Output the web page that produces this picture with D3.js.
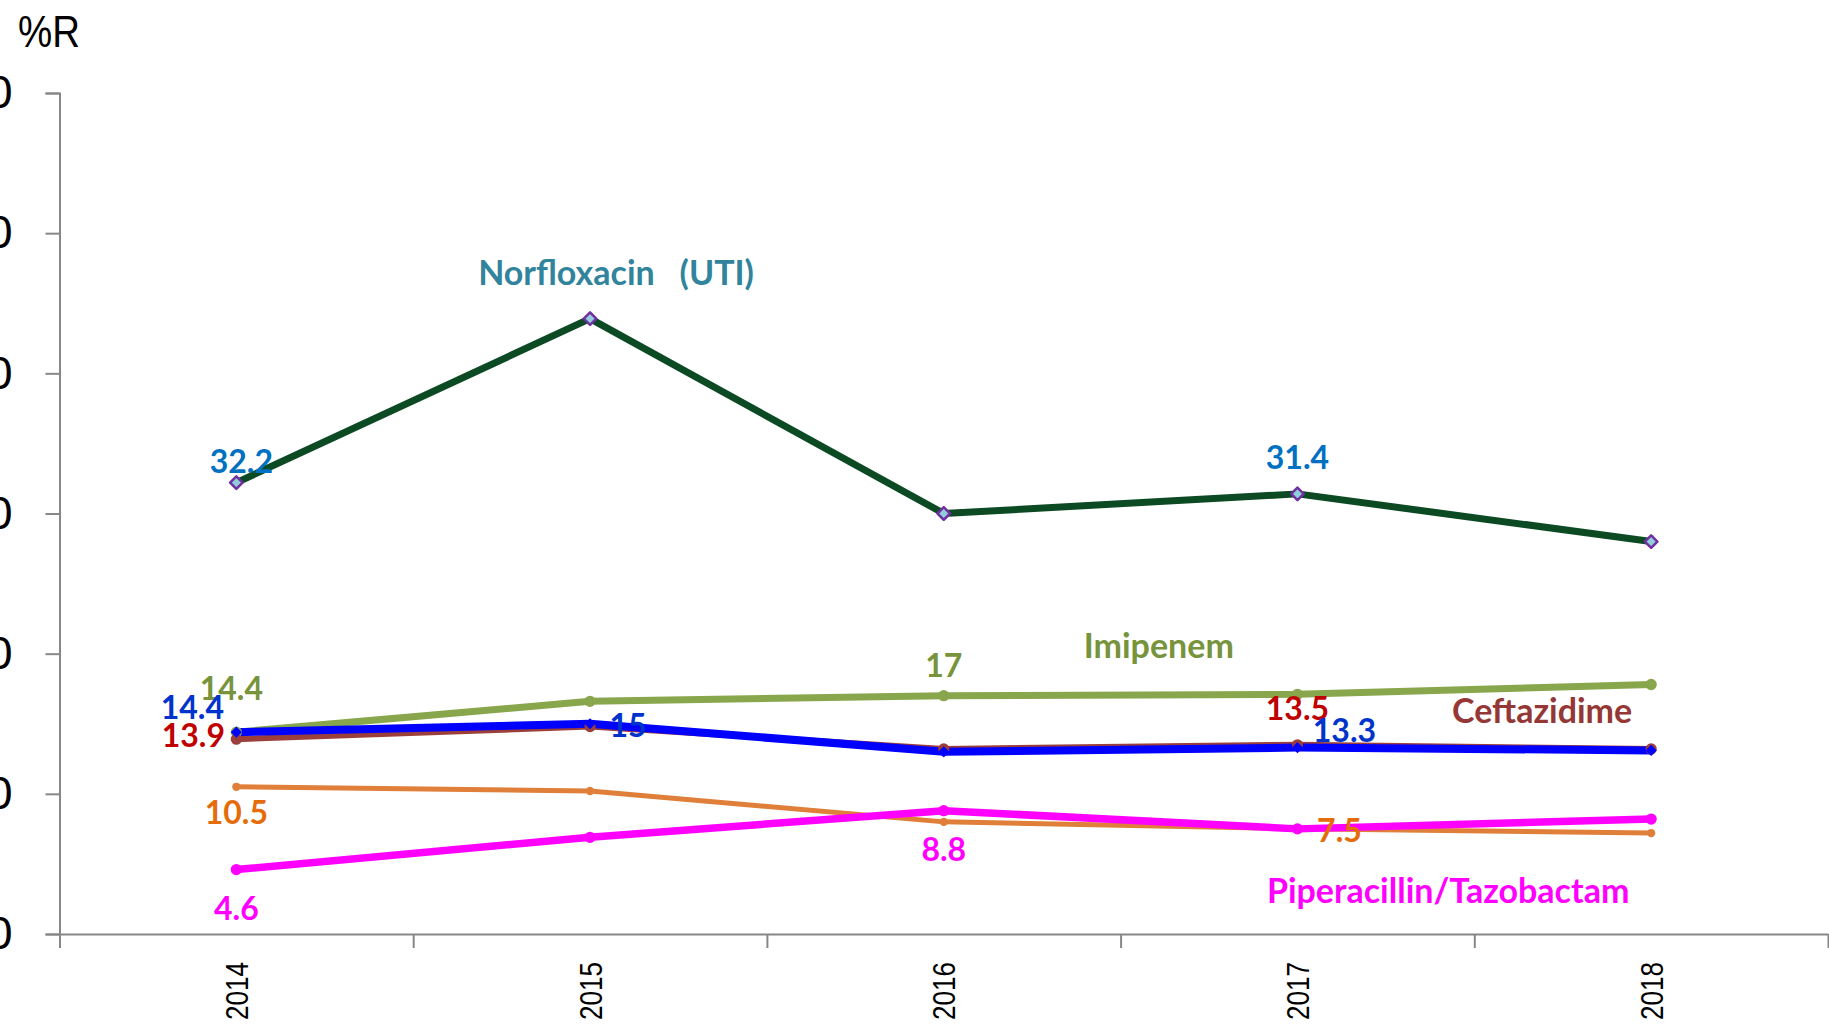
<!DOCTYPE html>
<html>
<head>
<meta charset="utf-8">
<script src="https://cdn.jsdelivr.net/npm/d3@7"></script>
<style>
  html, body { margin: 0; padding: 0; background: #fff; overflow: hidden; }
  svg { display: block; }
  .lbl { font-family: Lato, "Open Sans", sans-serif; font-weight: 700; white-space: pre; }
  .narrow { font-family: "Liberation Sans Narrow", "Arial Narrow", "Liberation Sans", sans-serif; }
</style>
</head>
<body>
<svg id="chart" width="1829" height="1024"></svg>
<script>
// data
const years = ["2014", "2015", "2016", "2017", "2018"];
const yTicks = [0, 10, 20, 30, 40, 50, 60];
const norfloxacin = [32.2, 43.9, 30.0, 31.4, 28.0];
const imipenem = [14.4, 16.6, 17.0, 17.1, 17.8];
const ceftazidime = [13.9, 14.8, 13.2, 13.5, 13.2];
const blueSeries = [14.4, 15, 13.0, 13.3, 13.1];
const orangeSeries = [10.5, 10.2, 8.0, 7.5, 7.2];
const piperacillin = [4.6, 6.9, 8.8, 7.5, 8.2];

const series = [
  { key: "norf", values: norfloxacin, color: "#0b4a22", width: 7, marker: "norf" },
  { key: "imi", values: imipenem, color: "#88a64c", width: 7, marker: "circle" },
  { key: "cef", values: ceftazidime, color: "#9c3f3b", width: 6, marker: "circle" },
  { key: "blue", values: blueSeries, color: "#0000ff", width: 8, marker: "diamond" },
  { key: "orange", values: orangeSeries, color: "#df7f39", width: 5, marker: "small" },
  { key: "pip", values: piperacillin, color: "#ff00ff", width: 7.5, marker: "circle" },
];

// value labels: which point, offset of the label from the point
const valueLabels = [
  { s: "norf", i: 0, dx: 5, dy: -10, color: "#0070c0" },
  { s: "norf", i: 3, dx: 0, dy: -25, color: "#0070c0" },
  { s: "imi", i: 0, dx: -5, dy: -32, color: "#77933c" },
  { s: "imi", i: 2, dx: 0, dy: -19, color: "#77933c" },
  { s: "blue", i: 0, dx: -44, dy: -13, color: "#0033cc" },
  { s: "cef", i: 0, dx: -43, dy: 8, color: "#c00000" },
  { s: "blue", i: 1, dx: 38, dy: 13, color: "#0033cc" },
  { s: "cef", i: 3, dx: 0, dy: -25, color: "#c00000" },
  { s: "blue", i: 3, dx: 47, dy: -6, color: "#0033cc" },
  { s: "orange", i: 0, dx: 0, dy: 37, color: "#e46c0a" },
  { s: "orange", i: 3, dx: 42, dy: 13, color: "#e46c0a" },
  { s: "pip", i: 2, dx: 0, dy: 50, color: "#ff00ff" },
  { s: "pip", i: 0, dx: 0, dy: 50, color: "#ff00ff" },
];

const nameLabels = [
  { s: "norf", i: 1, text: "Norfloxacin   (UTI)", dx: 26, dy: -34, color: "#31849b" },
  { s: "imi", i: 2, text: "Imipenem", dx: 215, dy: -38, color: "#77933c" },
  { s: "cef", i: 4, text: "Ceftazidime", dx: -109, dy: -26, color: "#953735" },
  { s: "pip", i: 4, text: "Piperacillin/Tazobactam", dx: -203, dy: 84, color: "#ff00ff" },
];

const plotLeft = 59.5, plotRight = 1828, plotTop = 93, plotBottom = 934;
const svg = d3.select("#chart");

const x = d3.scaleBand().domain(years).range([plotLeft, plotRight]);
const xEdge = d3.scaleLinear().domain([0, years.length]).range([plotLeft, plotRight]);
const y = d3.scaleLinear().domain([0, 60]).range([plotBottom, plotTop]);
const cx = (i) => x(years[i]) + x.bandwidth() / 2;
const byKey = Object.fromEntries(series.map((s) => [s.key, s]));

// y axis
const yAxis = svg.append("g")
  .attr("transform", `translate(${plotLeft},0)`)
  .call(d3.axisLeft(y).tickValues(yTicks).tickSize(14).tickSizeOuter(14).tickPadding(33));
yAxis.selectAll("path, line").attr("stroke", "#878787").attr("stroke-width", 2);
yAxis.selectAll("text")
  .attr("class", "narrow")
  .attr("font-family", null)
  .attr("font-size", 46)
  .attr("fill", "#000");

svg.append("text")
  .attr("class", "narrow")
  .attr("x", 18).attr("y", 47)
  .attr("font-size", 44)
  .attr("textLength", 62).attr("lengthAdjust", "spacingAndGlyphs")
  .text("%R");

// x axis: ticks on category edges, domain running to the edge of the picture
const xAxis = svg.append("g")
  .attr("transform", `translate(0,${plotBottom})`)
  .call(d3.axisBottom(xEdge).tickValues(d3.range(years.length + 1)).tickFormat("").tickSize(14).tickSizeOuter(0));
xAxis.selectAll("path, line").attr("stroke", "#878787").attr("stroke-width", 2);

const xLabels = svg.append("g")
  .attr("transform", `translate(0,${plotBottom})`)
  .call(d3.axisBottom(x).tickSize(0));
xLabels.attr("font-family", null);
xLabels.select(".domain").remove();
xLabels.selectAll("text")
  .attr("class", "narrow")
  .attr("font-size", 32)
  .attr("fill", "#000")
  .attr("transform", "rotate(-90)")
  .attr("x", -28).attr("y", 0).attr("dy", "0.36em")
  .attr("text-anchor", "end")
  .attr("textLength", 58).attr("lengthAdjust", "spacingAndGlyphs");

// lines
const line = d3.line().x((d, i) => cx(i)).y((d) => y(d));
svg.append("g").selectAll("path")
  .data(series)
  .join("path")
  .attr("d", (s) => line(s.values))
  .attr("fill", "none")
  .attr("stroke", (s) => s.color)
  .attr("stroke-width", (s) => s.width)
  .attr("stroke-linejoin", "round");

// markers
series.forEach((s) => {
  const g = svg.append("g");
  const pts = g.selectAll("path").data(s.values).join("path")
    .attr("transform", (d, i) => `translate(${cx(i)},${y(d)})`);
  if (s.marker === "norf") {
    pts.attr("d", d3.symbol(d3.symbolDiamond2, 100)())
      .attr("fill", "#92cddc").attr("stroke", "#7030a0").attr("stroke-width", 2.5)
      .attr("stroke-linejoin", "round");
  } else if (s.marker === "diamond") {
    pts.attr("d", d3.symbol(d3.symbolDiamond2, 80)()).attr("fill", s.color);
  } else if (s.marker === "small") {
    pts.attr("d", d3.symbol(d3.symbolCircle, 55)()).attr("fill", s.color);
  } else {
    pts.attr("d", d3.symbol(d3.symbolCircle, 100)()).attr("fill", s.color);
  }
});

// labels
svg.append("g").selectAll("text")
  .data(valueLabels)
  .join("text")
  .attr("class", "lbl")
  .attr("x", (d) => cx(d.i) + d.dx)
  .attr("y", (d) => y(byKey[d.s].values[d.i]) + d.dy)
  .attr("text-anchor", "middle")
  .attr("font-size", 32)
  .attr("fill", (d) => d.color)
  .text((d) => byKey[d.s].values[d.i]);

svg.append("g").selectAll("text")
  .data(nameLabels)
  .join("text")
  .attr("class", "lbl")
  .attr("x", (d) => cx(d.i) + d.dx)
  .attr("y", (d) => y(byKey[d.s].values[d.i]) + d.dy)
  .attr("text-anchor", "middle")
  .attr("font-size", 34)
  .attr("fill", (d) => d.color)
  .text((d) => d.text);
</script>
</body>
</html>
